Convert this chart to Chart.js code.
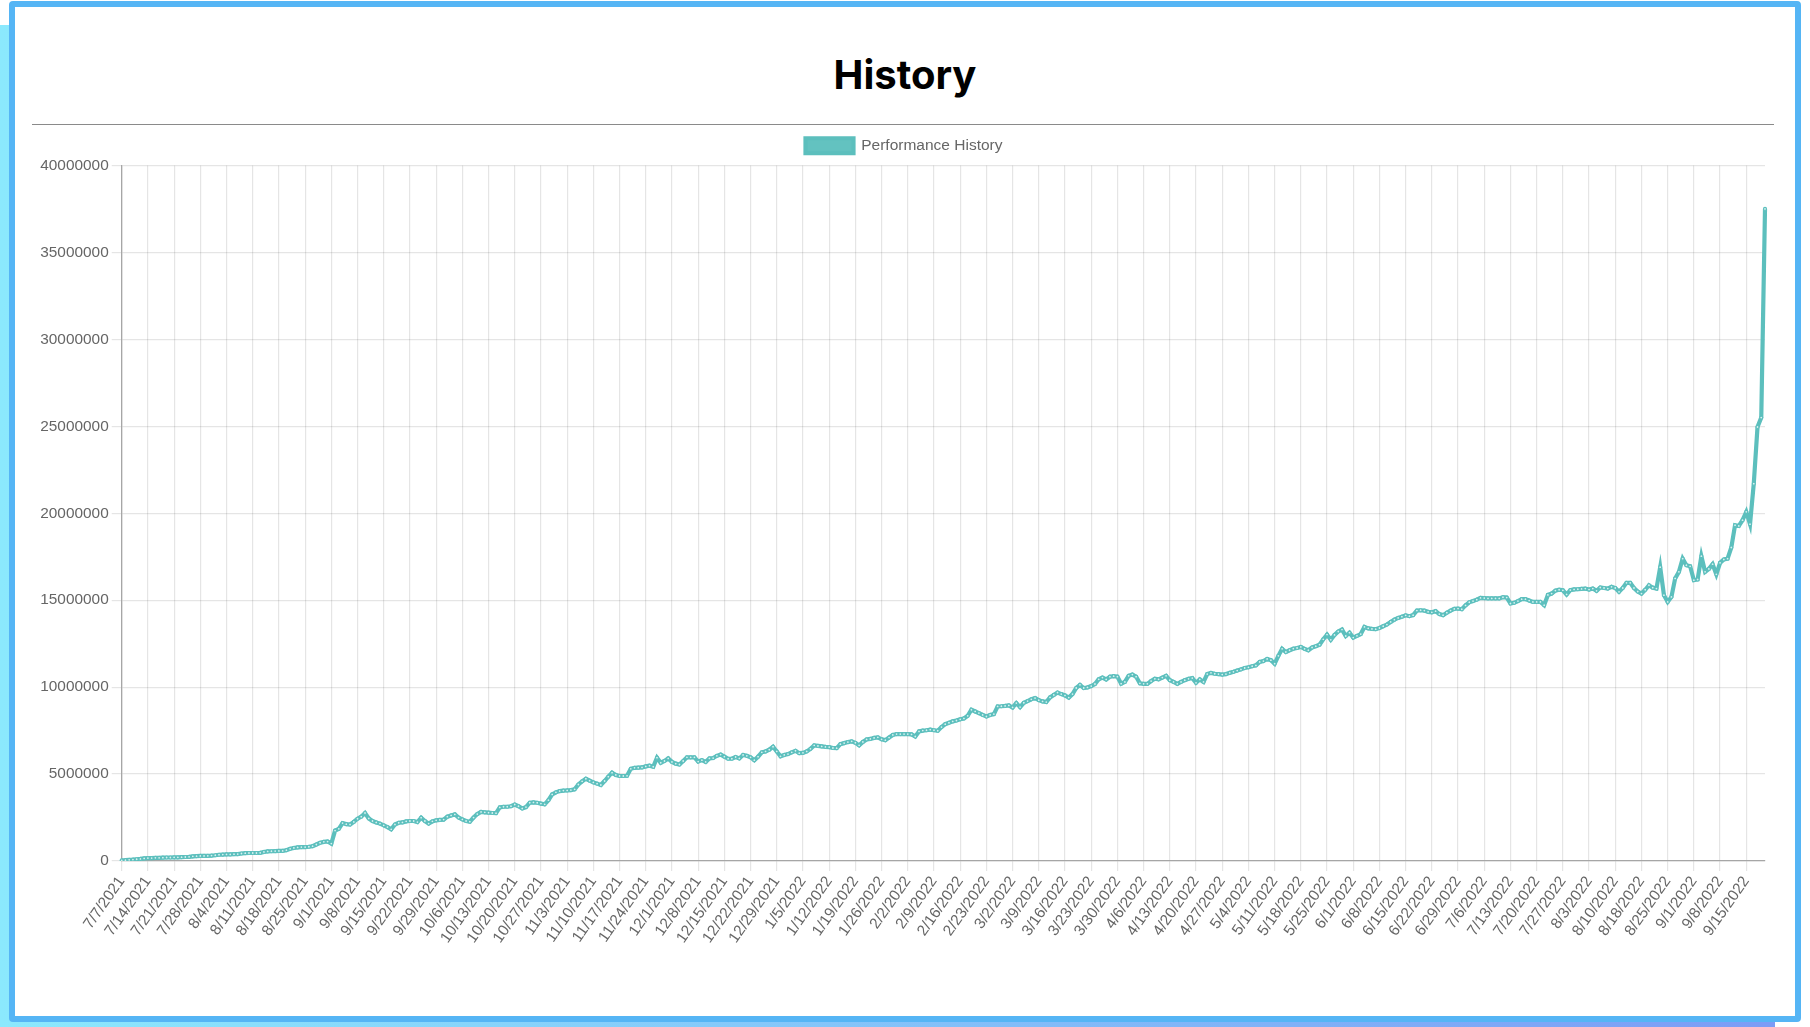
<!DOCTYPE html>
<html>
<head>
<meta charset="utf-8">
<script src="https://cdn.jsdelivr.net/npm/chart.js@4/dist/chart.umd.min.js"></script>
<style>
  html, body { margin:0; padding:0; width:1810px; height:1027px; overflow:hidden; background:#fff; }
  .bg { position:absolute; left:0; top:25px; width:1775px; height:1002px;
        background:linear-gradient(to right, #8be9fd, #7c9cf6); }
  .card { position:absolute; left:9px; top:1px; width:1780px; height:1009px;
          border:6px solid #55b5f5; background:#fff; border-radius:4px; }
  .title { position:absolute; left:9px; top:50px; width:1792px; height:50px; line-height:50px;
           text-align:center; font-family:Inter, 'Open Sans', sans-serif; font-weight:700;
           font-size:40px; color:#000; }
  .rule { position:absolute; left:32px; top:124px; width:1742px; height:0;
          border-top:1.5px solid #8a8a8a; }
  .wrap { position:absolute; left:32px; top:128px; width:1742px; height:880px; }
</style>
</head>
<body>
<div class="bg"></div>
<div class="card"></div>
<div class="title">History</div>
<div class="rule"></div>
<div class="wrap"><canvas id="c"></canvas></div>
<script>
// ---- data ----
const seriesName = "Performance History";
const startDate = [2021, 7, 7];      // first category (y, m, d)
const endDate = [2022, 9, 20];       // last category
const missingDates = ["8/14/2022"];  // a date absent from the record
const tickEvery = 7;                  // one labelled tick per week
const yTicks = [0, 5000000, 10000000, 15000000, 20000000, 25000000, 30000000, 35000000, 40000000];

// values in millions, one per category
const valuesMillions = [
  0.04,0.05,0.07,0.08,0.10,0.12,0.15,0.17,0.17,0.18,
  0.18,0.19,0.20,0.20,0.21,0.21,0.22,0.23,0.24,0.27,
  0.28,0.29,0.29,0.30,0.31,0.33,0.36,0.37,0.38,0.38,
  0.39,0.40,0.43,0.45,0.46,0.46,0.46,0.47,0.52,0.55,
  0.56,0.57,0.58,0.58,0.62,0.70,0.75,0.78,0.80,0.80,
  0.82,0.85,0.95,1.05,1.10,1.12,1.00,1.75,1.85,2.18,
  2.12,2.10,2.25,2.43,2.55,2.76,2.45,2.30,2.22,2.15,
  2.05,1.95,1.82,2.10,2.20,2.22,2.28,2.30,2.30,2.24,
  2.49,2.30,2.15,2.28,2.34,2.36,2.38,2.55,2.62,2.68,
  2.50,2.39,2.30,2.26,2.50,2.70,2.82,2.80,2.78,2.76,
  2.75,3.08,3.12,3.12,3.15,3.25,3.15,3.02,3.10,3.35,
  3.37,3.35,3.30,3.26,3.50,3.83,3.95,4.02,4.05,4.06,
  4.08,4.12,4.40,4.58,4.73,4.62,4.52,4.45,4.37,4.60,
  4.85,5.08,4.95,4.89,4.89,4.90,5.30,5.36,5.37,5.38,
  5.44,5.48,5.42,5.94,5.65,5.75,5.90,5.70,5.60,5.55,
  5.75,5.96,5.96,5.96,5.72,5.80,5.70,5.90,5.92,6.05,
  6.12,6.00,5.88,5.88,5.98,5.90,6.10,6.05,5.96,5.80,
  6.00,6.25,6.30,6.40,6.57,6.30,6.02,6.10,6.15,6.25,
  6.34,6.20,6.22,6.30,6.45,6.65,6.62,6.59,6.56,6.55,
  6.50,6.49,6.72,6.78,6.84,6.88,6.80,6.65,6.85,6.99,
  7.02,7.08,7.11,7.00,6.95,7.10,7.25,7.30,7.30,7.30,
  7.30,7.28,7.16,7.45,7.50,7.52,7.55,7.52,7.49,7.70,
  7.87,7.95,8.03,8.08,8.15,8.20,8.35,8.70,8.60,8.51,
  8.40,8.31,8.40,8.45,8.89,8.90,8.92,8.95,8.83,9.08,
  8.85,9.10,9.20,9.30,9.37,9.25,9.18,9.14,9.41,9.55,
  9.69,9.60,9.52,9.40,9.60,9.95,10.13,9.95,9.98,10.06,
  10.18,10.45,10.55,10.44,10.60,10.63,10.60,10.20,10.30,10.65,
  10.72,10.60,10.22,10.19,10.19,10.35,10.48,10.45,10.55,10.65,
  10.40,10.30,10.19,10.30,10.40,10.48,10.52,10.25,10.44,10.30,
  10.75,10.82,10.77,10.75,10.72,10.75,10.82,10.88,10.95,11.02,
  11.10,11.14,11.20,11.25,11.45,11.50,11.62,11.55,11.35,11.80,
  12.20,12.02,12.12,12.21,12.25,12.31,12.20,12.12,12.28,12.35,
  12.44,12.75,13.02,12.72,13.00,13.20,13.31,12.94,13.13,12.85,
  12.95,13.05,13.46,13.38,13.35,13.33,13.40,13.50,13.60,13.75,
  13.88,13.98,14.05,14.13,14.08,14.14,14.40,14.42,14.40,14.33,
  14.30,14.37,14.20,14.14,14.28,14.40,14.50,14.52,14.48,14.70,
  14.88,14.95,15.03,15.13,15.12,15.10,15.10,15.10,15.10,15.17,
  15.15,14.81,14.85,14.95,15.06,15.06,14.98,14.90,14.90,14.90,
  14.71,15.30,15.38,15.55,15.60,15.57,15.33,15.58,15.62,15.63,
  15.65,15.67,15.61,15.67,15.54,15.73,15.70,15.67,15.77,15.70,
  15.48,15.70,16.00,16.00,15.70,15.50,15.38,15.60,15.86,15.72,
  15.67,16.90,15.29,14.90,15.19,16.25,16.63,17.39,17.01,16.95,
  16.15,16.19,17.53,16.63,16.80,17.07,16.49,17.15,17.34,17.39,
  18.03,19.31,19.27,19.60,20.08,19.37,21.70,24.96,25.50,37.50
];

// ---- build categories (calendar dates) ----
const categories = [];
{
  const d = new Date(startDate[0], startDate[1] - 1, startDate[2]);
  const end = new Date(endDate[0], endDate[1] - 1, endDate[2]);
  while (d <= end) {
    const s = (d.getMonth() + 1) + "/" + d.getDate() + "/" + d.getFullYear();
    if (!missingDates.includes(s)) categories.push(s);
    d.setDate(d.getDate() + 1);
  }
}
const values = valuesMillions.map(v => Math.round(v * 1000000));

const FONT = "'Liberation Sans', Arial, Helvetica, sans-serif";
const TEAL = 'rgb(92,191,189)';

// extra gap below the legend, and legend centred like the original
const legendTweak = {
  id: 'legendTweak',
  beforeInit(chart) {
    const fit = chart.legend.fit;
    chart.legend.fit = function () { fit.bind(chart.legend)(); this.height += 2; };
  },
  afterLayout(chart) {
    chart.legend.left += 5.5;
    chart.legend.right += 5.5;
  }
};

new Chart(document.getElementById('c'), {
  type: 'line',
  data: {
    labels: categories,
    datasets: [{
      label: seriesName,
      data: values,
      borderColor: TEAL,
      backgroundColor: 'rgb(99,194,192)',
      borderWidth: 4.2,
      pointRadius: 1.5,
      pointBorderWidth: 1.2,
      pointBackgroundColor: '#d6f1f0',
      pointBorderColor: TEAL,
      tension: 0,
      fill: false
    }]
  },
  plugins: [legendTweak],
  options: {
    responsive: true,
    maintainAspectRatio: false,
    animation: false,
    devicePixelRatio: 1,
    layout: { padding: { left: 0, right: 9, top: 0, bottom: 0 } },
    plugins: {
      legend: {
        labels: { font: { size: 15.5, family: FONT }, color: '#666', boxWidth: 48, boxHeight: 15 }
      },
      tooltip: { enabled: false }
    },
    scales: {
      x: {
        grid: { color: 'rgba(0,0,0,0.1)', lineWidth: 1.2, tickLength: 10 },
        border: { color: '#a6a6a6', width: 1.3 },
        ticks: {
          autoSkip: false, maxRotation: 55, minRotation: 55, padding: 2,
          font: { size: 15.4, family: FONT }, color: '#666',
          callback: (v, i) => (i % tickEvery === 0 ? categories[i] : null)
        },
        afterFit: s => { s.height = 147; }
      },
      y: {
        min: yTicks[0], max: yTicks[yTicks.length - 1],
        grid: { color: 'rgba(0,0,0,0.1)', lineWidth: 1.2, tickLength: 10 },
        border: { color: '#a6a6a6', width: 1.3 },
        ticks: {
          stepSize: yTicks[1] - yTicks[0], padding: 3,
          font: { size: 15.4, family: FONT }, color: '#666',
          callback: v => String(v)
        },
        afterFit: s => { s.width = 89.7; }
      }
    }
  }
});
</script>
</body>
</html>
